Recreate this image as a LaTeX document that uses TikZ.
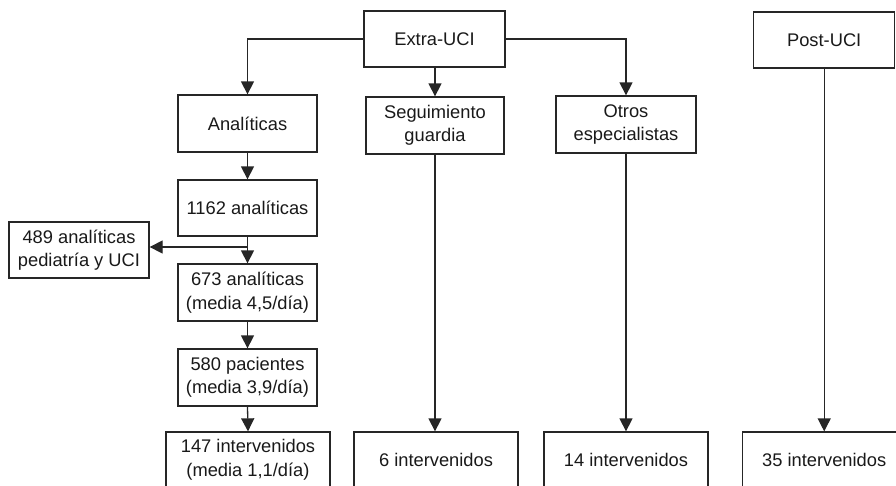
\documentclass[tikz,border=0pt]{standalone}
\usepackage{fontspec}
\setmainfont{Liberation Sans}
\usetikzlibrary{arrows.meta}
\begin{document}
\begin{tikzpicture}[x=1pt,y=-1pt,
  box/.style={draw=black!85,line width=1.3pt,inner sep=0pt,align=center,font=\fontsize{18.3}{23.5}\selectfont,text=black!90},
  arr/.style={draw=black!85,line width=1.3pt,-{Triangle[width=13pt,length=13pt]}}]
\useasboundingbox (0,0) rectangle (896,485);
\clip (0,0) rectangle (896,485);
% top row
\node[box,minimum width=141pt,minimum height=56pt] (extra) at (434.5,39) {Extra-UCI};
\node[box,minimum width=141pt,minimum height=56pt] (post) at (824.2,40) {Post-UCI};
% second row
\node[box,minimum width=139pt,minimum height=57pt] (anal) at (247.5,123.5) {Analíticas};
\node[box,minimum width=138pt,minimum height=57pt] (seg) at (435,125.5) {Seguimiento\\guardia};
\node[box,minimum width=140pt,minimum height=57pt] (otros) at (626,124.5) {Otros\\especialistas};
% left column
\node[box,minimum width=139pt,minimum height=56pt] (n1162) at (247.5,208) {1162 analíticas};
\node[box,minimum width=140pt,minimum height=56pt] (n489) at (79,250) {489 analíticas\\pediatría y UCI};
\node[box,minimum width=139pt,minimum height=57pt] (n673) at (247.5,292.5) {673 analíticas\\(media 4,5/día)};
\node[box,minimum width=139pt,minimum height=57pt] (n580) at (247.5,377.5) {580 pacientes\\(media 3,9/día)};
% bottom row
\node[box,minimum width=164pt,minimum height=56pt] (n147) at (248,460) {147 intervenidos\\(media 1,1/día)};
\node[box,minimum width=164pt,minimum height=56pt] (n6) at (436,460) {6 intervenidos};
\node[box,minimum width=164pt,minimum height=56pt] (n14) at (626,460) {14 intervenidos};
\node[box,minimum width=164pt,minimum height=56pt] (n35) at (824.2,460) {35 intervenidos};
% connectors
\draw[arr] (extra.west) -| (anal.north);
\draw[arr] (extra.east) -| (otros.north);
\draw[arr] (extra.south -| seg.north) -- (seg.north);
\draw[arr] (anal.south) -- (n1162.north);
\draw[arr] (n1162.south) -- (n673.north);
\coordinate (br) at (247.5,247);
\draw[arr] (br) -- (br -| n489.east);
\draw[arr] (n673.south) -- (n580.north);
\draw[arr] (n580.south) -- (n147.north);
\draw[arr] (seg.south) -- (seg.south |- n6.north);
\draw[arr] (otros.south) -- (n14.north);
\draw[arr] (post.south) -- (n35.north);
\end{tikzpicture}
\end{document}
